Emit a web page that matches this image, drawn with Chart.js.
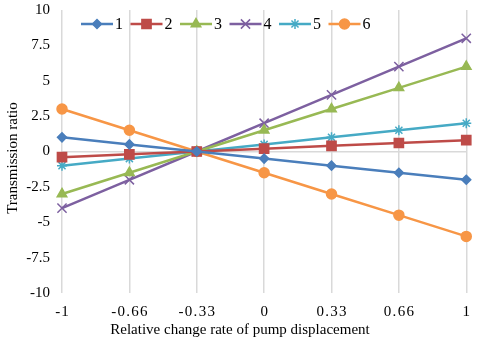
<!DOCTYPE html>
<html>
<head>
<meta charset="utf-8">
<script src="https://cdn.jsdelivr.net/npm/chart.js@4/dist/chart.umd.min.js"></script>
<style>
  html, body { margin: 0; padding: 0; background: #fff; }
  #wrap { width: 480px; height: 344px; position: relative; }
</style>
</head>
<body>
<div id="wrap"><canvas id="chart"></canvas></div>
<script>
const X_LABELS = ["-1", "-0.66", "-0.33", "0", "0.33", "0.66", "1"];
const Y_TICKS = [-10, -7.5, -5, -2.5, 0, 2.5, 5, 7.5, 10];
const X_TITLE = "Relative change rate of pump displacement";
const Y_TITLE = "Transmission ratio";

const SERIES_NAMES = ["1", "2", "3", "4", "5", "6"];
const SERIES_1 = [1, 0.5, 0, -0.5, -1, -1.5, -2];
const SERIES_2 = [-0.4, -0.2, 0, 0.2, 0.4, 0.6, 0.8];
const SERIES_3 = [-3, -1.5, 0, 1.5, 3, 4.5, 6];
const SERIES_4 = [-4, -2, 0, 2, 4, 6, 8];
const SERIES_5 = [-1, -0.5, 0, 0.5, 1, 1.5, 2];
const SERIES_6 = [3, 1.5, 0, -1.5, -3, -4.5, -6];

const SERIES_STYLES = [
  { color: "#4a7ebb", pointStyle: "rectRot", radius: 4.5 },
  { color: "#be4b48", pointStyle: "rect", radius: 6.5 },
  { color: "#98b954", pointStyle: "triangle", radius: 5.5 },
  { color: "#7d60a0", pointStyle: "crossRot", radius: 6.5 },
  { color: "#46aac5", pointStyle: "star", radius: 5 },
  { color: "#f79646", pointStyle: "circle", radius: 5 },
];

const FONT = "'Liberation Serif', 'Times New Roman', serif";
const GRID_COLOR = "#d9d9d9";

const seriesValues = [SERIES_1, SERIES_2, SERIES_3, SERIES_4, SERIES_5, SERIES_6];

function spaced(text) {
  return text.split("").join("\u200A");
}

// legend drawn as line + marker, inside the top of the plot
const lineLegend = {
  id: "lineLegend",
  afterDraw(chart) {
    const ctx = chart.ctx;
    const area = chart.chartArea;
    const y = area.top + 14;
    ctx.save();
    ctx.font = "16px " + FONT;
    ctx.textBaseline = "middle";
    chart.data.datasets.forEach((dataset, i) => {
      const x = area.left + 19 + i * 49.5;
      ctx.strokeStyle = dataset.borderColor;
      ctx.fillStyle = dataset.borderColor;
      ctx.lineWidth = 2.5;
      ctx.beginPath();
      ctx.moveTo(x, y);
      ctx.lineTo(x + 32, y);
      ctx.stroke();
      ctx.lineWidth = 1.5;
      Chart.helpers.drawPoint(ctx, {
        pointStyle: dataset.pointStyle,
        radius: dataset.pointRadius,
        rotation: 0,
        borderWidth: 1.5,
      }, x + 16, y);
      ctx.fillStyle = "#000";
      ctx.fillText(dataset.label, x + 34, y + 1);
    });
    ctx.restore();
  },
};

// axis titles centred like the original, not on the plot area
const axisTitles = {
  id: "axisTitles",
  afterDraw(chart) {
    const ctx = chart.ctx;
    ctx.save();
    ctx.font = "15px " + FONT;
    ctx.fillStyle = "#000";
    ctx.textAlign = "center";
    ctx.textBaseline = "middle";
    ctx.fillText(X_TITLE, 240, 330);
    ctx.translate(13, 158);
    ctx.rotate(-Math.PI / 2);
    ctx.fillText(Y_TITLE, 0, 0);
    ctx.restore();
  },
};

new Chart(document.getElementById("chart"), {
  type: "line",
  data: {
    labels: X_LABELS,
    datasets: SERIES_NAMES.map((name, i) => ({
      label: name,
      data: seriesValues[i],
      borderColor: SERIES_STYLES[i].color,
      backgroundColor: SERIES_STYLES[i].color,
      pointStyle: SERIES_STYLES[i].pointStyle,
      pointRadius: SERIES_STYLES[i].radius,
      pointBorderWidth: 1.5,
      borderWidth: 2.5,
      tension: 0,
    })),
  },
  options: {
    responsive: true,
    maintainAspectRatio: false,
    animation: false,
    layout: { padding: { top: 10, right: 12, left: 0, bottom: 23 } },
    plugins: {
      legend: { display: false },
      tooltip: { enabled: false },
    },
    scales: {
      x: {
        offset: false,
        afterFit(scale) {
          scale.height = 28;
        },
        grid: { color: GRID_COLOR, lineWidth: 1.5, drawTicks: false },
        border: { display: false },
        ticks: {
          color: "#000",
          font: { family: FONT, size: 15 },
          padding: 10,
          maxRotation: 0,
          callback(value, index) {
            return spaced(X_LABELS[index]);
          },
        },
      },
      y: {
        min: -10,
        max: 10,
        afterBuildTicks(scale) {
          scale.ticks = Y_TICKS.map((v) => ({ value: v }));
        },
        afterFit(scale) {
          scale.width = 62;
          scale.paddingTop = 0;
          scale.paddingBottom = 0;
        },
        grid: {
          color(ctx) {
            return ctx.tick && ctx.tick.value === 0 ? GRID_COLOR : "rgba(0,0,0,0)";
          },
          lineWidth: 1.5,
          drawTicks: false,
        },
        border: { display: false },
        ticks: {
          color: "#000",
          font: { family: FONT, size: 15 },
          padding: 12,
          callback(value) {
            return String(value);
          },
        },
      },
    },
  },
  plugins: [lineLegend, axisTitles],
});
</script>
</body>
</html>
